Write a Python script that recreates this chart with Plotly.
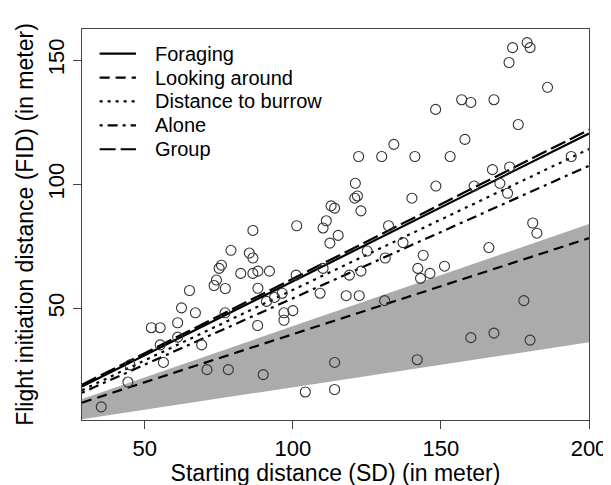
import plotly.graph_objects as go

# Scatter data: starting distance (SD) and flight initiation distance (FID)
sd = [122.2, 130.0, 134.1, 141.2, 153.1, 148.2, 157.0, 160.1, 167.9, 158.1,
      173.0, 174.2, 179.1, 180.1, 186.0, 176.1, 194.0,
      91.1, 93.8, 96.4, 101.1, 110.2, 109.2, 118.0, 122.4, 119.1, 123.0,
      125.1, 131.2, 132.3, 137.2, 144.0, 142.2, 143.1, 146.3, 151.2, 166.2,
      181.0, 182.4, 167.4, 173.2, 148.3, 161.2, 169.9, 172.5, 140.2, 121.1,
      121.8, 120.9, 123.0, 112.9, 114.1, 111.3, 110.2, 115.3, 112.5, 101.3,
      86.5, 79.1, 85.3, 86.5, 75.9, 75.1, 82.4, 86.5, 88.2, 92.1,
      74.2, 73.4, 77.2, 65.1, 88.2,
      62.4, 67.1, 77.1, 52.2, 55.2, 61.1, 61.1, 55.2, 69.2, 88.1,
      97.0, 97.0, 100.0, 45.0, 56.3, 71.0, 78.2, 90.0, 44.3, 35.3,
      104.2, 114.1, 114.1, 142.0, 160.1, 167.9, 180.1, 178.0, 131.0]
fid = [111.2, 111.2, 116.1, 111.2, 111.2, 130.2, 134.1, 133.0, 134.1, 118.1,
       149.1, 155.1, 157.1, 155.1, 139.1, 124.1, 111.2,
       52.8, 54.4, 56.1, 63.4, 66.1, 56.1, 55.1, 55.1, 63.4, 65.0,
       73.1, 70.3, 83.3, 76.5, 71.4, 66.1, 62.1, 64.1, 67.0, 74.5,
       84.4, 80.3, 105.9, 107.0, 99.3, 99.3, 100.4, 96.4, 94.4, 100.4,
       95.3, 94.4, 89.3, 91.3, 90.4, 85.3, 82.4, 79.4, 76.3, 83.3,
       81.4, 73.4, 72.3, 70.3, 67.4, 66.1, 64.1, 64.1, 65.0, 65.0,
       61.4, 59.2, 58.0, 57.2, 58.1,
       50.2, 48.2, 48.2, 42.2, 42.2, 44.2, 38.4, 35.3, 35.3, 43.1,
       48.2, 45.2, 49.1, 27.2, 28.2, 25.3, 25.3, 23.3, 20.3, 10.3,
       16.3, 28.2, 17.3, 29.3, 38.2, 40.0, 37.2, 53.1, 53.1]

# Fitted lines: FID at the two ends of the SD range
line_x = [28.8, 200.0]
line_names = ["Foraging", "Looking around", "Distance to burrow", "Alone", "Group"]
line_start = [18.5, 12.0, 17.0, 16.0, 19.2]
line_end = [120.5, 78.3, 114.2, 107.5, 122.0]
line_dash = ["solid", "10px,6px", "3px,5px", "3px,5px,10px,5px", "16px,5px"]

# Grey band
band_x = [28.8, 200.0]
band_low = [5.3, 36.3]
band_high = [13.5, 84.0]

x_ticks = [50, 100, 150, 200]
y_ticks = [50, 100, 150]

FONT = "Liberation Sans, Arial, sans-serif"

# plot-area geometry in pixels (for legend placement)
W, H = 611, 485
ML, MR, MT, MB = 74, 20, 21, 68
PW, PH = W - ML - MR, H - MT - MB


def px_to_paper_x(px):
    return (px - ML) / PW


def px_to_paper_y(py):
    return 1 - (py - MT) / PH


fig = go.Figure()

fig.add_trace(go.Scatter(
    x=band_x + band_x[::-1], y=band_low + band_high[::-1],
    fill="toself", fillcolor="#ababab", line=dict(width=0, color="#ababab"),
    mode="lines", showlegend=False, hoverinfo="skip"))

for name, y0, y1, dash in zip(line_names, line_start, line_end, line_dash):
    fig.add_trace(go.Scatter(
        x=line_x, y=[y0, y1], mode="lines", name=name, showlegend=False,
        line=dict(color="black", width=2.2, dash=dash)))

fig.add_trace(go.Scatter(
    x=sd, y=fid, mode="markers", showlegend=False,
    marker=dict(symbol="circle-open", size=10, color="#333333",
                line=dict(width=1.1, color="#333333"))))

# Manual legend (R-style, no box)
leg_top, leg_step = 46.0, 24.2
for i, (name, dash) in enumerate(zip(line_names, line_dash)):
    py = leg_top + i * leg_step
    fig.add_shape(type="line", xref="paper", yref="paper",
                  x0=px_to_paper_x(92), x1=px_to_paper_x(129),
                  y0=px_to_paper_y(py), y1=px_to_paper_y(py),
                  line=dict(color="black", width=2.2, dash=dash))
    fig.add_annotation(xref="paper", yref="paper", x=px_to_paper_x(146),
                       y=px_to_paper_y(py), text=name, showarrow=False,
                       xanchor="left", yanchor="middle",
                       font=dict(family=FONT, size=20, color="black"))

axis_common = dict(showline=True, linecolor="#444444", linewidth=1.2, mirror=True,
                   ticks="outside", ticklen=8, tickcolor="#444444", tickwidth=1.2,
                   showgrid=False, zeroline=False,
                   tickfont=dict(family=FONT, size=22, color="black"))

fig.update_layout(
    width=W, height=H,
    margin=dict(l=ML, r=MR, t=MT, b=MB),
    plot_bgcolor="white", paper_bgcolor="white",
    font=dict(family=FONT, color="black"),
    xaxis=dict(range=[28.8, 200], tickvals=x_ticks,
               title=dict(text="Starting distance (SD) (in meter)",
                          font=dict(family=FONT, size=23), standoff=4),
               **axis_common),
    yaxis=dict(range=[5.0, 162.6], tickvals=y_ticks, tickangle=-90,
               title=dict(text="Flight initiation distance (FID) (in meter)",
                          font=dict(family=FONT, size=23), standoff=4),
               **axis_common),
    showlegend=False,
)

fig.write_html("out.html")
